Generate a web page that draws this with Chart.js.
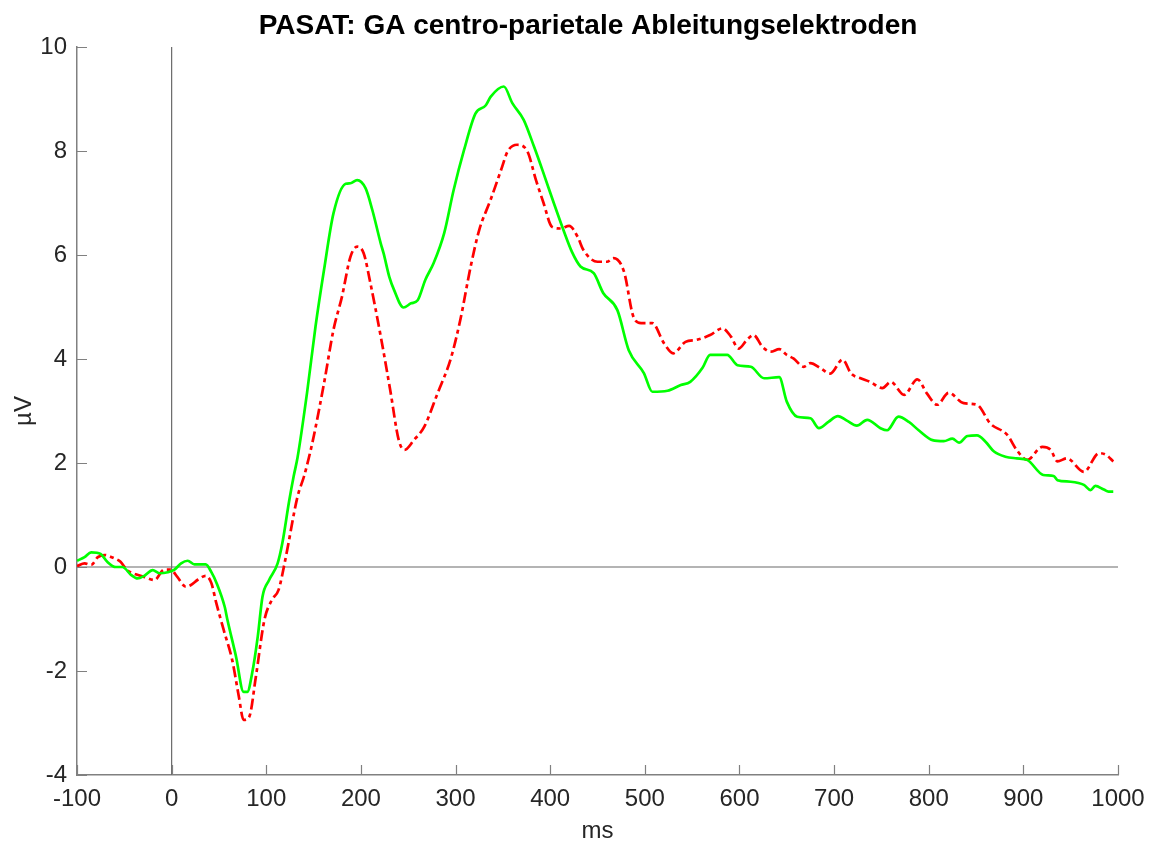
<!DOCTYPE html>
<html>
<head>
<meta charset="utf-8">
<script src="https://cdn.jsdelivr.net/npm/chart.js@4/dist/chart.umd.min.js"></script>
<style>
  html, body { margin: 0; padding: 0; background: #ffffff; }
  #c { display: block; }
</style>
</head>
<body>
<canvas id="c" width="1153" height="843"></canvas>
<script>
// ---- Data ----
const chartTitle = "PASAT: GA centro-parietale Ableitungselektroden";
const xAxisLabel = "ms";
const yAxisLabel = "µV";
const xTicks = [-100, 0, 100, 200, 300, 400, 500, 600, 700, 800, 900, 1000];
const yTicks = [-4, -2, 0, 2, 4, 6, 8, 10];

// Green solid series (time in ms, amplitude in µV)
const greenMs = [-100,-92,-85,-75,-68,-59,-52,-43,-36,-29,-20,-13,-4,3,10,17,24,36,42,48,56,59,68,76,80,85,91,96,103,112,117,124,129,133,143,152,161,171,184,189,196,205,212,221,224,230,235,245,253,260,268,277,288,298,309,321,332,337,351,360,372,383,393,404,414,423,432,446,456,471,483,499,508,524,538,548,561,569,587,598,612,626,642,650,661,675,684,694,704,714,724,735,749,756,768,779,790,804,816,825,832,841,851,860,869,881,893,904,921,932,936,950,964,971,976,985,990,995];
const greenUv = [0.12,0.19,0.28,0.25,0.10,0.00,0.00,-0.15,-0.22,-0.17,-0.06,-0.12,-0.10,-0.05,0.07,0.12,0.05,0.05,-0.10,-0.33,-0.76,-1.02,-1.72,-2.40,-2.40,-2.05,-1.34,-0.57,-0.25,0.07,0.46,1.25,1.75,2.10,3.34,4.62,5.71,6.80,7.37,7.38,7.44,7.28,6.87,6.22,6.03,5.58,5.33,4.99,5.07,5.13,5.52,5.85,6.42,7.25,8.02,8.72,8.88,9.04,9.24,8.92,8.60,8.08,7.57,6.99,6.48,6.06,5.78,5.65,5.27,4.94,4.17,3.73,3.37,3.39,3.50,3.56,3.83,4.08,4.08,3.88,3.85,3.63,3.65,3.18,2.89,2.86,2.67,2.79,2.90,2.81,2.72,2.83,2.67,2.63,2.89,2.79,2.62,2.44,2.42,2.47,2.39,2.52,2.53,2.41,2.22,2.12,2.09,2.06,1.77,1.75,1.67,1.64,1.58,1.48,1.56,1.49,1.45,1.45];

// Red dash-dot series
const redMs = [-100,-92,-85,-78,-71,-61,-54,-47,-38,-29,-18,-8,-1,6,15,20,28,36,42,47,55,64,71,76,82,89,98,106,113,120,133,140,145,150,161,171,180,189,196,203,210,221,231,240,246,256,267,281,295,305,316,325,337,348,355,365,376,385,393,402,411,420,429,435,450,460,467,478,488,496,508,520,530,543,555,569,582,591,599,608,615,624,633,642,650,657,668,675,686,696,709,718,728,738,751,760,774,788,798,809,821,837,851,865,883,893,904,920,929,936,946,964,980,988,995];
const redUv = [0.02,0.07,0.04,0.19,0.23,0.17,0.10,-0.06,-0.14,-0.19,-0.25,-0.05,-0.05,-0.19,-0.38,-0.35,-0.24,-0.17,-0.31,-0.68,-1.21,-1.79,-2.49,-2.94,-2.88,-2.11,-1.02,-0.63,-0.44,0.13,1.35,1.75,2.10,2.50,3.53,4.56,5.20,5.97,6.16,6.03,5.46,4.43,3.40,2.44,2.25,2.44,2.70,3.34,4.01,4.75,5.78,6.48,7.06,7.63,7.99,8.12,7.99,7.44,7.00,6.54,6.51,6.56,6.35,6.10,5.87,5.87,5.94,5.68,4.81,4.69,4.69,4.31,4.11,4.33,4.37,4.46,4.59,4.43,4.20,4.37,4.46,4.24,4.14,4.19,4.08,4.01,3.85,3.92,3.82,3.72,3.99,3.72,3.63,3.56,3.44,3.56,3.31,3.61,3.34,3.12,3.35,3.15,3.12,2.76,2.54,2.25,2.06,2.31,2.25,2.03,2.09,1.83,2.19,2.15,2.03];

// ---- Styling ----
const FONT = "'Liberation Sans', Arial, Helvetica, sans-serif";
const TEXT_COLOR = "#262626";
const AXIS_COLOR = "#808080";

const toPoints = (xs, ys) => xs.map((x, i) => ({ x: x, y: ys[i] }));

const decorPlugin = {
  id: 'decor',
  beforeDatasetsDraw(chart) {
    const { ctx, chartArea, scales } = chart;
    const x0 = scales.x.getPixelForValue(0);
    const y0 = scales.y.getPixelForValue(0);
    ctx.save();
    ctx.strokeStyle = "#6a6a6a";
    ctx.lineWidth = 1.2;
    ctx.beginPath();
    ctx.moveTo(x0, chartArea.top);
    ctx.lineTo(x0, chartArea.bottom);
    ctx.moveTo(chartArea.left, y0);
    ctx.lineTo(chartArea.right, y0);
    ctx.stroke();
    ctx.restore();
  },
  afterDraw(chart) {
    const { ctx, chartArea, scales } = chart;
    ctx.save();
    // inward ticks
    ctx.strokeStyle = AXIS_COLOR;
    ctx.lineWidth = 1.2;
    ctx.beginPath();
    xTicks.forEach(v => {
      const px = Math.round(scales.x.getPixelForValue(v)) + 0.5;
      ctx.moveTo(px, chartArea.bottom);
      ctx.lineTo(px, chartArea.bottom - 10);
    });
    yTicks.forEach(v => {
      const py = Math.round(scales.y.getPixelForValue(v)) + 0.5;
      ctx.moveTo(chartArea.left, py);
      ctx.lineTo(chartArea.left + 10, py);
    });
    ctx.stroke();

    // title
    ctx.fillStyle = "#000000";
    ctx.font = "bold 28px " + FONT;
    ctx.textAlign = "center";
    ctx.textBaseline = "alphabetic";
    ctx.fillText(chartTitle, 588, 34);

    // x label
    ctx.fillStyle = TEXT_COLOR;
    ctx.font = "24px " + FONT;
    ctx.fillText(xAxisLabel, (chartArea.left + chartArea.right) / 2, 838);

    // y label (rotated)
    ctx.translate(31, (chartArea.top + chartArea.bottom) / 2);
    ctx.rotate(-Math.PI / 2);
    ctx.fillText(yAxisLabel, 0, 0);
    ctx.restore();
  }
};

new Chart(document.getElementById('c'), {
  type: 'line',
  data: {
    datasets: [
      {
        label: 'green',
        data: toPoints(greenMs, greenUv),
        borderColor: '#00ff00',
        borderWidth: 2.7,
        pointRadius: 0,
        cubicInterpolationMode: 'monotone',
        fill: false
      },
      {
        label: 'red',
        data: toPoints(redMs, redUv),
        borderColor: '#ff0000',
        borderWidth: 2.7,
        borderDash: [11, 4, 4, 4],
        pointRadius: 0,
        cubicInterpolationMode: 'monotone',
        fill: false
      }
    ]
  },
  options: {
    responsive: false,
    animation: false,
    events: [],
    layout: { padding: { left: 0, right: 35, top: 47, bottom: 0 } },
    plugins: {
      legend: { display: false },
      title: { display: false },
      tooltip: { enabled: false }
    },
    scales: {
      x: {
        type: 'linear',
        min: -100,
        max: 1000,
        afterBuildTicks: (s) => { s.ticks = xTicks.map(v => ({ value: v })); },
        afterFit: (s) => { s.height = 68; s.paddingLeft = 0; s.paddingRight = 0; },
        grid: { display: false, drawTicks: false },
        border: { display: true, color: AXIS_COLOR, width: 1.5 },
        ticks: {
          color: TEXT_COLOR,
          font: { family: FONT, size: 24 },
          padding: 10,
          maxRotation: 0,
          autoSkip: false,
          callback: (v) => String(v)
        }
      },
      y: {
        type: 'linear',
        min: -4,
        max: 10,
        afterBuildTicks: (s) => { s.ticks = yTicks.map(v => ({ value: v })); },
        afterFit: (s) => { s.width = 77; s.paddingTop = 0; s.paddingBottom = 0; },
        grid: { display: false, drawTicks: false },
        border: { display: true, color: AXIS_COLOR, width: 1.5 },
        ticks: {
          color: TEXT_COLOR,
          font: { family: FONT, size: 24 },
          padding: 10,
          autoSkip: false,
          callback: (v) => String(v)
        }
      }
    }
  },
  plugins: [decorPlugin]
});
</script>
</body>
</html>
